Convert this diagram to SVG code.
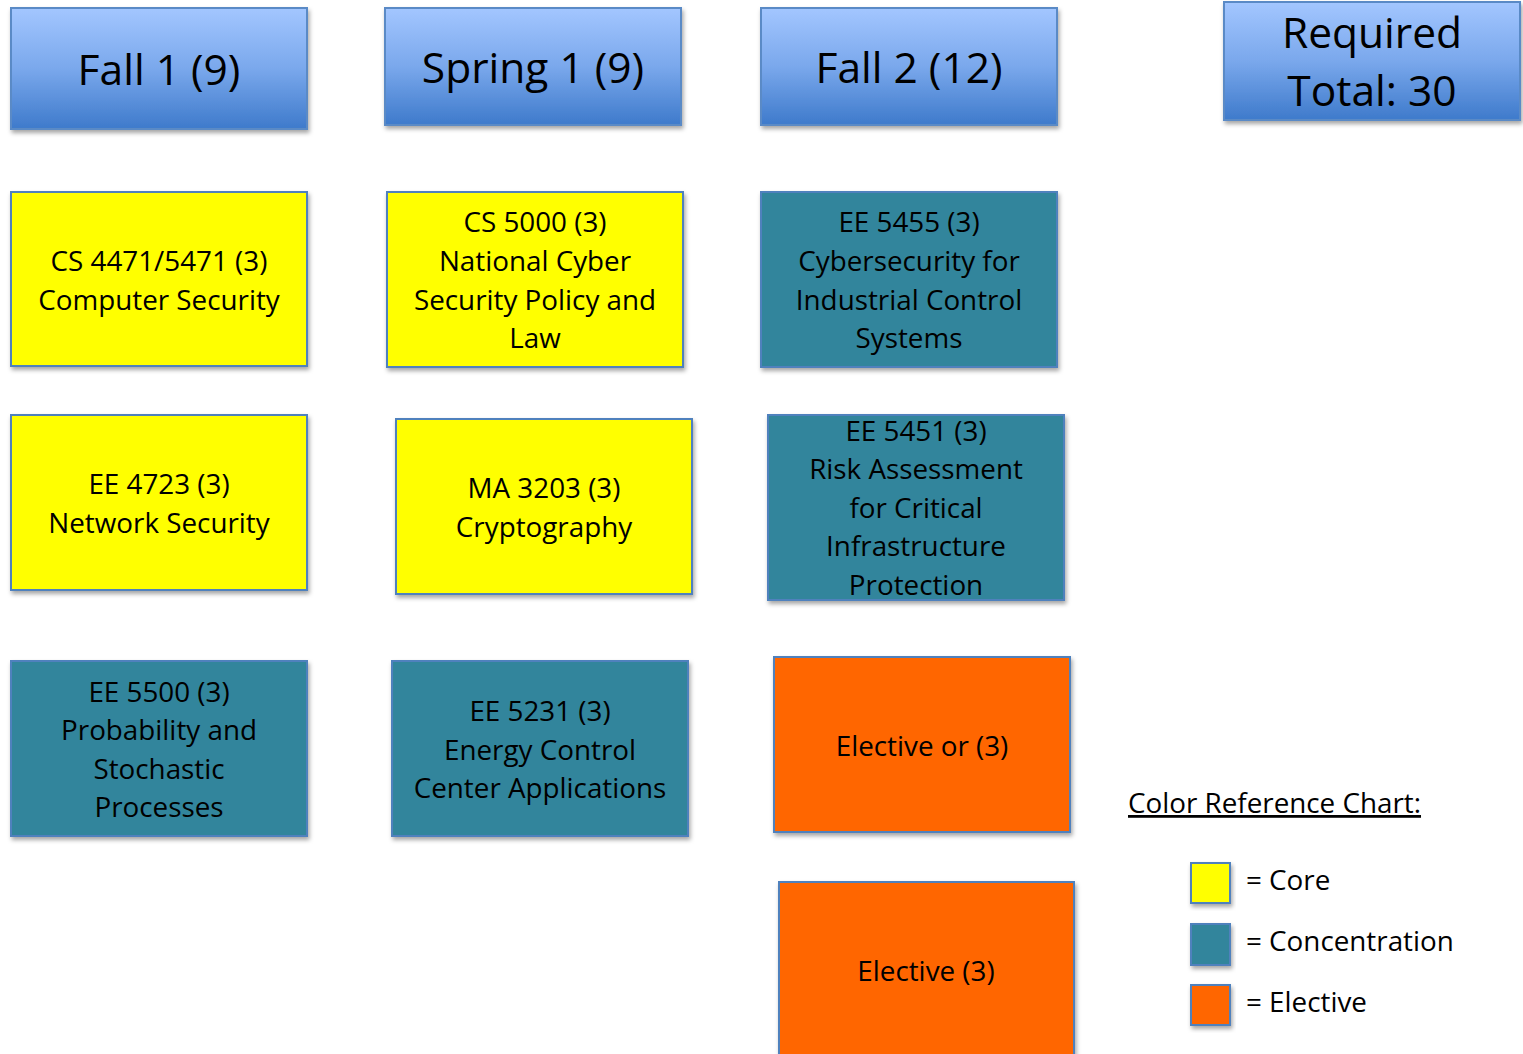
<svg xmlns="http://www.w3.org/2000/svg" width="1523" height="1054" viewBox="0 0 1523 1054">
  <defs>
    <linearGradient id="hdr" x1="0" y1="0" x2="0" y2="1">
      <stop offset="0" stop-color="#A3C6FF"/>
      <stop offset="0.5" stop-color="#7AA8EC"/>
      <stop offset="1" stop-color="#3E7ACB"/>
    </linearGradient>
    <filter id="shadow" x="-10%" y="-10%" width="125%" height="130%">
      <feDropShadow dx="1.5" dy="3" stdDeviation="2" flood-color="#000" flood-opacity="0.35"/>
    </filter>
  </defs>
  <style>
    rect { stroke: #4F81BD; stroke-width: 2; filter: url(#shadow); }
    .head rect { fill: url(#hdr); stroke: #5A8AC6; }
    .core rect { fill: #FFFF00; }
    .conc rect { fill: #31859C; }
    .elec rect { fill: #FF6600; }
    text { font-family: "Open Sans", "Liberation Sans", sans-serif; fill: #000; text-anchor: middle; }
    .head text { font-size: 42.5px; }
    .body text { font-size: 27.8px; }
    .legend text { font-size: 27.8px; text-anchor: start; }
  </style>

  <!-- semester headers -->
  <g id="fall1" class="head"><rect x="11" y="8" width="296" height="121"/><text x="159" y="85">Fall 1 (9)</text></g>
  <g id="spring1" class="head"><rect x="385" y="8" width="296" height="117"/><text x="533" y="83">Spring 1 (9)</text></g>
  <g id="fall2" class="head"><rect x="761" y="8" width="296" height="117"/><text x="909" y="83">Fall 2 (12)</text></g>
  <g id="required" class="head"><rect x="1224" y="2" width="296" height="118"/><text x="1372" y="48">Required</text><text x="1372" y="106">Total: 30</text></g>

  <!-- Fall 1 courses -->
  <g id="cs4471" class="body core"><rect x="11" y="192" width="296" height="174"/>
    <text x="159" y="271">CS 4471/5471 (3)</text><text x="159" y="310">Computer Security</text></g>
  <g id="ee4723" class="body core"><rect x="11" y="415" width="296" height="175"/>
    <text x="159" y="494">EE 4723 (3)</text><text x="159" y="533">Network Security</text></g>
  <g id="ee5500" class="body conc"><rect x="11" y="661" width="296" height="175"/>
    <text x="159" y="702">EE 5500 (3)</text><text x="159" y="740">Probability and</text><text x="159" y="779">Stochastic</text><text x="159" y="817">Processes</text></g>

  <!-- Spring 1 courses -->
  <g id="cs5000" class="body core"><rect x="387" y="192" width="296" height="175"/>
    <text x="535" y="232">CS 5000 (3)</text><text x="535" y="271">National Cyber</text><text x="535" y="310">Security Policy and</text><text x="535" y="348">Law</text></g>
  <g id="ma3203" class="body core"><rect x="396" y="419" width="296" height="175"/>
    <text x="544" y="498">MA 3203 (3)</text><text x="544" y="537">Cryptography</text></g>
  <g id="ee5231" class="body conc"><rect x="392" y="661" width="296" height="175"/>
    <text x="540" y="721">EE 5231 (3)</text><text x="540" y="760">Energy Control</text><text x="540" y="798">Center Applications</text></g>

  <!-- Fall 2 courses -->
  <g id="ee5455" class="body conc"><rect x="761" y="192" width="296" height="175"/>
    <text x="909" y="232">EE 5455 (3)</text><text x="909" y="271">Cybersecurity for</text><text x="909" y="310">Industrial Control</text><text x="909" y="348">Systems</text></g>
  <g id="ee5451" class="body conc"><rect x="768" y="415" width="296" height="185"/>
    <text x="916" y="441">EE 5451 (3)</text><text x="916" y="479">Risk Assessment</text><text x="916" y="518">for Critical</text><text x="916" y="556">Infrastructure</text><text x="916" y="595">Protection</text></g>
  <g id="elective-or" class="body elec"><rect x="774" y="657" width="296" height="175"/>
    <text x="922" y="756">Elective or (3)</text></g>
  <g id="elective" class="body elec"><rect x="779" y="882" width="295" height="180"/>
    <text x="926" y="981">Elective (3)</text></g>

  <!-- colour key -->
  <g id="legend" class="legend">
    <text x="1128" y="813" text-decoration="underline">Color Reference Chart:</text>
    <g class="core"><rect x="1191" y="863" width="39" height="40"/></g>
    <text x="1246" y="890">= Core</text>
    <g class="conc"><rect x="1191" y="924" width="39" height="41"/></g>
    <text x="1246" y="951">= Concentration</text>
    <g class="elec"><rect x="1191" y="985" width="39" height="40"/></g>
    <text x="1246" y="1012">= Elective</text>
  </g>

  <g id="connectors"></g>
</svg>
